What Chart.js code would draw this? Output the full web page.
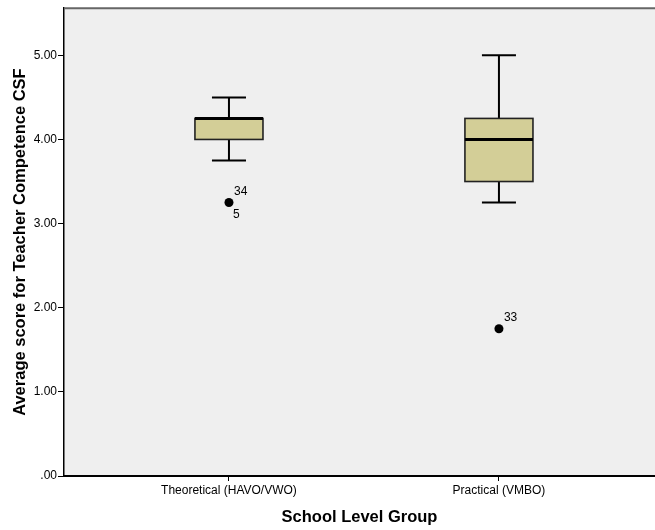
<!DOCTYPE html>
<html>
<head>
<meta charset="utf-8">
<script src="https://cdn.jsdelivr.net/npm/chart.js@4.4.1/dist/chart.umd.min.js"></script>
<style>
  html, body { margin: 0; padding: 0; background: #fff; overflow: hidden; }
  #wrap { width: 655px; height: 530px; }
  canvas { display: block; }
</style>
</head>
<body>
<div id="wrap"><canvas id="chart" width="655" height="530"></canvas></div>
<script>
// data
const groups = ['Theoretical (HAVO/VWO)', 'Practical (VMBO)'];
const whiskerLow = [3.75, 3.25];
const q1 = [4.0, 3.5];
const median = [4.25, 4.0];
const q3 = [4.25, 4.25];
const whiskerHigh = [4.5, 5.0];

const outlierGroup = [0, 1];
const outlierValue = [3.25, 1.75];
const outlierIds = [['34', '5'], ['33']];

const yTicks = [0, 1, 2, 3, 4, 5];
const yTickLabels = ['.00', '1.00', '2.00', '3.00', '4.00', '5.00'];

const FONT = 'Arial, "Liberation Sans", sans-serif';
const BOX_W = 0.252;   // in x units (one group = 1)
const CAP_W = 0.126;

const boxPlugin = {
  id: 'boxes',
  beforeDraw(chart) {
    const { ctx, chartArea: a } = chart;
    ctx.save();
    ctx.fillStyle = '#efefef';
    ctx.fillRect(a.left, a.top, a.right - a.left, a.bottom - a.top);
    ctx.restore();
  },
  beforeDatasetsDraw(chart) {
    const { ctx } = chart;
    const x = chart.scales.x, y = chart.scales.y;
    ctx.save();
    for (let i = 0; i < groups.length; i++) {
      const cx = x.getPixelForValue(i);
      const bl = x.getPixelForValue(i - BOX_W / 2);
      const br = x.getPixelForValue(i + BOX_W / 2);
      const cl = x.getPixelForValue(i - CAP_W / 2);
      const cr = x.getPixelForValue(i + CAP_W / 2);
      const yLo = y.getPixelForValue(whiskerLow[i]);
      const yQ1 = y.getPixelForValue(q1[i]);
      const yMed = y.getPixelForValue(median[i]);
      const yQ3 = y.getPixelForValue(q3[i]);
      const yHi = y.getPixelForValue(whiskerHigh[i]);

      ctx.strokeStyle = '#000';
      ctx.lineWidth = 2;
      ctx.beginPath();
      ctx.moveTo(cx, yHi); ctx.lineTo(cx, yQ3);
      ctx.moveTo(cx, yQ1); ctx.lineTo(cx, yLo);
      ctx.moveTo(cl, yHi); ctx.lineTo(cr, yHi);
      ctx.moveTo(cl, yLo); ctx.lineTo(cr, yLo);
      ctx.stroke();

      ctx.fillStyle = '#d3ce97';
      ctx.fillRect(bl, yQ3, br - bl, yQ1 - yQ3);
      ctx.strokeStyle = '#222';
      ctx.lineWidth = 1.6;
      ctx.strokeRect(bl, yQ3, br - bl, yQ1 - yQ3);

      ctx.strokeStyle = '#000';
      ctx.lineWidth = 3;
      ctx.beginPath();
      ctx.moveTo(bl, yMed); ctx.lineTo(br, yMed);
      ctx.stroke();
    }
    ctx.restore();
  },
  afterDatasetsDraw(chart) {
    const { ctx, chartArea: a } = chart;
    const x = chart.scales.x, y = chart.scales.y;
    ctx.save();
    ctx.font = '12px ' + FONT;
    ctx.fillStyle = '#000';
    ctx.textAlign = 'left';
    ctx.textBaseline = 'middle';
    for (let k = 0; k < outlierValue.length; k++) {
      const px = x.getPixelForValue(outlierGroup[k]);
      const py = y.getPixelForValue(outlierValue[k]);
      const ids = outlierIds[k];
      ctx.fillText(ids[0], px + 5, py - 11);
      if (ids[1]) ctx.fillText(ids[1], px + 4, py + 12);
    }
    // top frame line
    ctx.strokeStyle = '#666';
    ctx.lineWidth = 2;
    ctx.beginPath();
    ctx.moveTo(a.left, a.top);
    ctx.lineTo(a.right, a.top);
    ctx.stroke();
    ctx.restore();
  }
};

const points = outlierValue.map((v, k) => ({ x: outlierGroup[k], y: v }));

new Chart(document.getElementById('chart'), {
  type: 'scatter',
  data: {
    datasets: [{
      data: points,
      pointRadius: 4.5,
      pointBackgroundColor: '#000',
      pointBorderColor: '#000',
      pointBorderWidth: 0,
    }],
  },
  options: {
    responsive: false,
    animation: false,
    events: [],
    layout: { autoPadding: false, padding: { top: 7, right: 0, left: 0, bottom: 0 } },
    plugins: { legend: { display: false }, tooltip: { enabled: false } },
    scales: {
      x: {
        type: 'linear',
        min: -0.611,
        max: 1.578,
        afterBuildTicks: (s) => { s.ticks = groups.map((g, i) => ({ value: i })); },
        afterFit: (s) => { s.height = 54; s.paddingLeft = 0; s.paddingRight = 0; },
        ticks: {
          callback: (v) => groups[v],
          font: { family: FONT, size: 12 },
          color: '#000',
          padding: 2,
          maxRotation: 0,
          autoSkip: false,
        },
        grid: { drawOnChartArea: false, drawTicks: true, tickLength: 5, color: '#000', lineWidth: 1 },
        border: { color: '#000', width: 2 },
        title: {
          display: true,
          text: 'School Level Group',
          font: { family: FONT, size: 16.5, weight: 'bold' },
          color: '#000',
          padding: { top: 0, bottom: 3 },
        },
      },
      y: {
        type: 'linear',
        min: 0,
        max: 5.56,
        afterBuildTicks: (s) => { s.ticks = yTicks.map((v) => ({ value: v })); },
        afterFit: (s) => { s.width = 64; },
        ticks: {
          callback: (v) => yTickLabels[yTicks.indexOf(v)],
          font: { family: FONT, size: 12 },
          color: '#000',
          padding: 1,
        },
        grid: { drawOnChartArea: false, drawTicks: true, tickLength: 6, color: '#000', lineWidth: 1 },
        border: { color: '#000', width: 1.5 },
        title: {
          display: true,
          text: 'Average score for Teacher Competence CSF',
          font: { family: FONT, size: 16.5, weight: 'bold' },
          color: '#000',
          padding: { top: 11, bottom: 0 },
        },
      },
    },
  },
  plugins: [boxPlugin],
});
</script>
</body>
</html>
